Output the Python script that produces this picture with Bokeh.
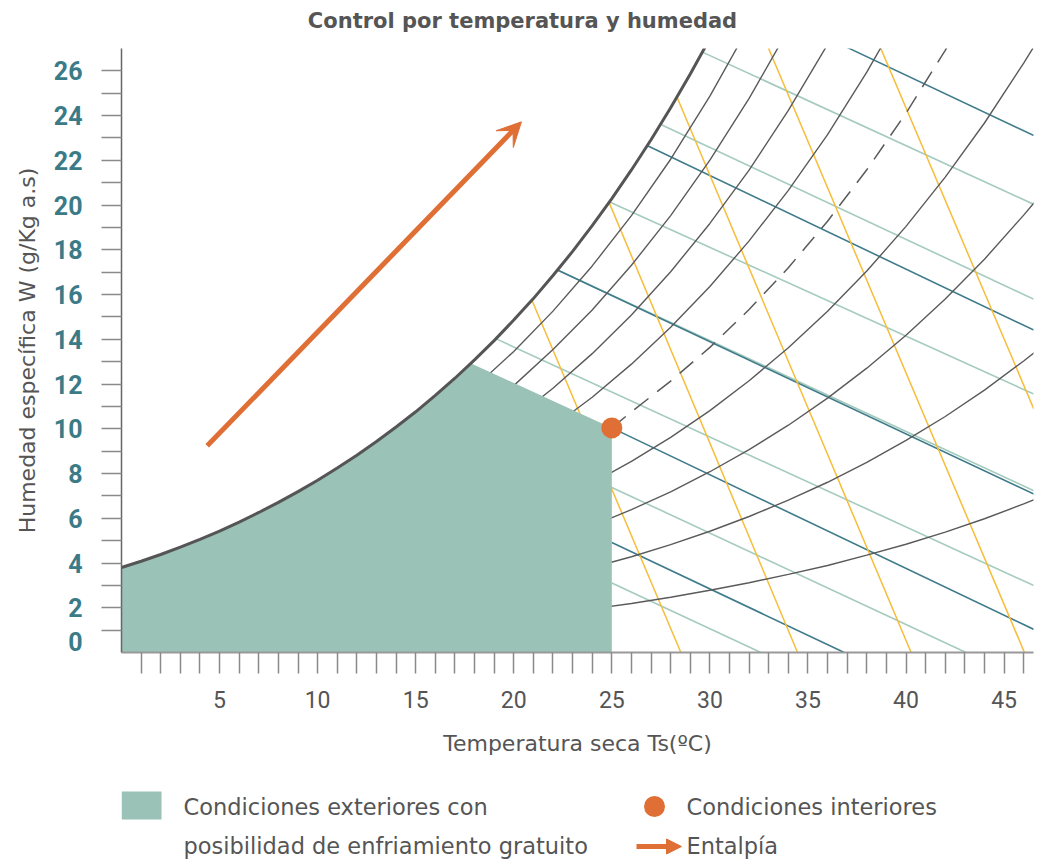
from bokeh.plotting import figure
from bokeh.models import Range1d, FixedTicker, Arrow, VeeHead, NormalHead
from bokeh.layouts import column
from bokeh.embed import file_html
from bokeh.resources import INLINE
from bokeh.core.properties import value

# ---------------- data ----------------
title_text = "Control por temperatura y humedad"
x_label = "Temperatura seca Ts(ºC)"
y_label = "Humedad específica W (g/Kg a.s)"

x_tick_pos = [5, 10, 15, 20, 25, 30, 35, 40, 45]
x_minor = list(range(1, 47))
y_tick_pos = [0.5, 2, 4, 6, 8, 10, 12, 14, 16, 18, 20, 22, 24, 26]
y_tick_labels = ["0", "2", "4", "6", "8", "10", "12", "14", "16", "18", "20", "22", "24", "26"]
y_minor = list(range(1, 27))

# saturation curve (100 % RH)
sat_T = list(range(0, 31))
sat_W = [3.80, 4.08, 4.38, 4.71, 5.06, 5.43, 5.83, 6.26, 6.71, 7.19, 7.70, 8.25,
         8.82, 9.43, 10.08, 10.76, 11.49, 12.26, 13.08, 13.94, 14.86, 15.82, 16.85,
         17.93, 19.08, 20.29, 21.57, 22.92, 24.35, 25.86, 27.45]

# relative humidity curves
rh_hi_T = [16, 18, 20, 22, 24, 26, 28, 30, 32, 34, 36, 38, 40]
rh90_W = [10.41, 11.85, 13.46, 15.26, 17.28, 19.53, 22.05, 24.87, 28.00]
rh80_W = [9.24, 10.51, 11.93, 13.54, 15.31, 17.31, 19.53, 22.01, 24.77, 27.84]
rh70_W = [8.07, 9.18, 10.42, 11.81, 13.36, 15.09, 17.02, 19.18, 21.56, 24.23, 27.18, 30.47]
rh60_W = [6.91, 7.85, 8.91, 10.10, 11.41, 12.89, 14.54, 16.36, 18.40, 20.66, 23.15, 25.94, 29.01]

rh_lo_T = [24, 26, 28, 30, 32, 34, 36, 38, 40, 42, 44, 46, 47]
rh40_W = [7.57, 8.54, 9.62, 10.81, 12.15, 13.62, 15.25, 17.05, 19.05, 21.25, 23.67, 26.35, 27.76]
rh30_W = [5.66, 6.39, 7.18, 8.08, 9.07, 10.16, 11.37, 12.71, 14.18, 15.80, 17.58, 19.55, 20.59]
rh20_W = [3.80, 4.28, 4.82, 5.42, 6.08, 6.81, 7.61, 8.50, 9.48, 10.55, 11.73, 13.03, 13.72]
rh10_W = [1.95, 2.19, 2.47, 2.78, 3.12, 3.49, 3.89, 4.35, 4.84, 5.38, 5.98, 6.64, 6.99]

# 50 % RH (dashed) from the indoor point
rh50_T = [25, 26, 28, 30, 32, 34, 36, 38, 40, 42, 43]
rh50_W = [10.04, 10.76, 12.13, 13.64, 15.33, 17.20, 19.28, 21.58, 24.11, 26.92, 28.43]

# light teal straight lines (start -> end)
lt_x0 = [29.59, 27.50, 24.86, 22.23, 19.08, 25.0, 25.0]
lt_y0 = [26.85, 23.60, 20.15, 17.10, 14.03, 7.38, 3.11]
lt_x1 = [46.52, 46.52, 46.52, 46.52, 46.52, 43.06, 32.60]
lt_y1 = [20.03, 15.79, 11.55, 7.23, 2.99, 0.0, 0.0]

# dark teal straight lines
dt_x0 = [36.99, 26.82, 22.23, 25.0, 25.0]
dt_y0 = [27.05, 22.65, 17.10, 10.04, 4.92]
dt_x1 = [46.52, 46.52, 46.52, 46.52, 36.85]
dt_y1 = [23.11, 14.41, 7.08, 1.03, 0.0]

# yellow straight lines
yl_x0 = [20.92, 24.86, 28.32, 32.97, 38.69]
yl_y0 = [15.76, 20.12, 24.83, 27.05, 27.05]
yl_x1 = [28.52, 34.47, 40.26, 46.04, 46.52]
yl_y1 = [0.0, 0.0, 0.0, 0.0, 10.88]

# free-cooling zone corners, indoor point, enthalpy arrow
zone_corner_T = [17.8, 25.0, 25.0]
zone_corner_W = [12.93, 10.04, 0.0]
indoor_T = [25.0]
indoor_W = [10.04]
arrow_T = [4.37, 20.39]
arrow_W = [9.24, 23.72]

legend_zone = ["Condiciones exteriores con", "posibilidad de enfriamiento gratuito"]
legend_point = "Condiciones interiores"
legend_arrow = "Entalpía"

# ---------------- styles ----------------
TXT = "#555555"
TEAL_TXT = "#3b7b88"
ZONE = "#9ac2b6"
DARK_TEAL = "#3f7b8b"
LIGHT_TEAL = "#a4cbbd"
YELLOW = "#f7bd3a"
CURVE = "#5a5a5a"
ORANGE = "#df6f35"

W_FIG = 1046
BL, BR = 121, 13          # frame borders (px) shared by all three strips
X0, X1 = BL, W_FIG - BR   # page x of frame edges


def strip(h):
    f = figure(width=W_FIG, height=h, x_range=Range1d(X0, X1), y_range=Range1d(0, h),
               x_axis_type=None, y_axis_type=None, output_backend="svg",
               toolbar_location=None, tools="",
               min_border_left=BL, min_border_right=BR, min_border_top=0, min_border_bottom=0)
    f.outline_line_color = None
    f.grid.visible = False
    return f


# ---------------- title strip (page y 0..48) ----------------
TH = 48
t = strip(TH)
t.text(x=[522], y=[TH - 20], text=[title_text], text_font=value("DejaVu Sans"),
       text_font_size="21px", text_font_style="bold", text_color=TXT,
       text_align="center", text_baseline="middle")

# ---------------- main chart (page y 48..768) ----------------
p = figure(width=W_FIG, height=720, x_range=Range1d(0, 46.5), y_range=Range1d(0, 27),
           output_backend="svg", toolbar_location=None, tools="",
           min_border_left=BL, min_border_right=BR, min_border_top=0, min_border_bottom=116)
p.outline_line_color = None
p.grid.visible = False

p.multi_line(xs=[[a, b] for a, b in zip(lt_x0, lt_x1)], ys=[[a, b] for a, b in zip(lt_y0, lt_y1)],
             line_color=LIGHT_TEAL, line_width=1.6)
p.multi_line(xs=[[a, b] for a, b in zip(dt_x0, dt_x1)], ys=[[a, b] for a, b in zip(dt_y0, dt_y1)],
             line_color=DARK_TEAL, line_width=1.6)
p.multi_line(xs=[[a, b] for a, b in zip(yl_x0, yl_x1)], ys=[[a, b] for a, b in zip(yl_y0, yl_y1)],
             line_color=YELLOW, line_width=1.5)

for w in [rh90_W, rh80_W, rh70_W, rh60_W]:
    p.line(rh_hi_T[:len(w)], w, line_color=CURVE, line_width=1.4)
for w in [rh40_W, rh30_W, rh20_W, rh10_W]:
    p.line(rh_lo_T, w, line_color=CURVE, line_width=1.4)

zone_T = [0.0] + sat_T[:18] + zone_corner_T
zone_W = [0.0] + sat_W[:18] + zone_corner_W
p.patch(zone_T, zone_W, fill_color=ZONE, line_color=None)

p.line(sat_T, sat_W, line_color="#555555", line_width=3)
p.line(rh50_T, rh50_W, line_color=CURVE, line_width=1.5, line_dash="18 11")
p.scatter(indoor_T, indoor_W, size=21, marker="circle", fill_color=ORANGE, line_color=None)
p.add_layout(Arrow(x_start=arrow_T[0], y_start=arrow_W[0], x_end=arrow_T[1], y_end=arrow_W[1],
                   line_color=ORANGE, line_width=5,
                   end=VeeHead(size=24, fill_color=ORANGE, line_color=ORANGE, line_width=1)))

p.yaxis.ticker = FixedTicker(ticks=y_tick_pos, minor_ticks=y_minor)
p.yaxis.major_label_overrides = {pos: lab for pos, lab in zip(y_tick_pos, y_tick_labels)}
p.yaxis.major_tick_out = 20
p.yaxis.major_tick_in = 0
p.yaxis.major_tick_line_color = None
p.yaxis.minor_tick_out = 20
p.yaxis.minor_tick_in = 0
p.yaxis.minor_tick_line_color = "#8a8a8a"
p.yaxis.minor_tick_line_width = 1.5
p.yaxis.major_label_standoff = 19
p.yaxis.major_label_text_font = "Roboto"
p.yaxis.major_label_text_font_size = "25px"
p.yaxis.major_label_text_font_style = "bold"
p.yaxis.major_label_text_color = TEAL_TXT
p.yaxis.axis_line_color = "#666666"
p.yaxis.axis_line_width = 1.5
p.yaxis.axis_label = y_label
p.yaxis.axis_label_text_font = "DejaVu Sans"
p.yaxis.axis_label_text_font_size = "22px"
p.yaxis.axis_label_text_font_style = "normal"
p.yaxis.axis_label_text_color = TXT
p.yaxis.axis_label_standoff = 11

p.xaxis.ticker = FixedTicker(ticks=x_tick_pos, minor_ticks=x_minor)
p.xaxis.major_tick_out = 21
p.xaxis.major_tick_in = 0
p.xaxis.major_tick_line_color = None
p.xaxis.minor_tick_out = 21
p.xaxis.minor_tick_in = 0
p.xaxis.minor_tick_line_color = "#8a8a8a"
p.xaxis.minor_tick_line_width = 1.5
p.xaxis.major_label_standoff = 17
p.xaxis.major_label_text_font = "Roboto"
p.xaxis.major_label_text_font_size = "23px"
p.xaxis.major_label_text_color = TXT
p.xaxis.axis_line_color = "#999999"
p.xaxis.axis_line_width = 2
p.xaxis.axis_label = x_label
p.xaxis.axis_label_text_font = "DejaVu Sans"
p.xaxis.axis_label_text_font_size = "22px"
p.xaxis.axis_label_text_font_style = "normal"
p.xaxis.axis_label_text_color = TXT
p.xaxis.axis_label_standoff = 20

# ---------------- legend strip (page y 768..861) ----------------
LH = 93
LTOP = 768
lg = strip(LH)


def ly(page_y):
    return LTOP + LH - page_y


lg.quad(left=[121], right=[161], top=[ly(791)], bottom=[ly(819)], fill_color=ZONE, line_color=None)
lg.text(x=[183, 183], y=[ly(806), ly(845)], text=legend_zone, text_font=value("DejaVu Sans"),
        text_font_size="22.5px", text_color=TXT, text_baseline="middle", text_align="left")
lg.scatter([654], [ly(806)], size=21, marker="circle", fill_color=ORANGE, line_color=None)
lg.text(x=[686, 686], y=[ly(806), ly(845)], text=[legend_point, legend_arrow],
        text_font=value("DejaVu Sans"), text_font_size="22.5px", text_color=TXT,
        text_baseline="middle", text_align="left")
lg.add_layout(Arrow(x_start=636, y_start=ly(846), x_end=681, y_end=ly(846), line_color=ORANGE,
                    line_width=5,
                    end=NormalHead(size=15, fill_color=ORANGE, line_color=ORANGE, line_width=1)))

layout = column(t, p, lg)
open("out.html", "w").write(file_html(layout, INLINE))
